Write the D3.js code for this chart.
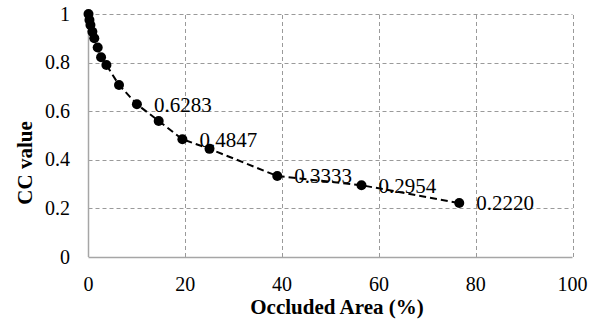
<!DOCTYPE html>
<html>
<head>
<meta charset="utf-8">
<script src="https://cdn.jsdelivr.net/npm/d3@7"></script>
<style>
  body { margin: 0; background: #fff; }
</style>
</head>
<body>
<svg width="603" height="324"></svg>
<script>
  // occluded area (%) and CC value
  const occluded = [0, 0.2, 0.4, 0.8, 1.2, 1.9, 2.6, 3.7, 6.3, 10.0, 14.5, 19.4, 25.0, 39.0, 56.4, 76.6];
  const ccValue = [1.0, 0.975, 0.955, 0.927, 0.90, 0.862, 0.822, 0.79, 0.708, 0.6283, 0.56, 0.4847, 0.445, 0.3333, 0.2954, 0.2220];
  const labelled = ['0.6283', '0.4847', '0.3333', '0.2954', '0.2220'];

  const xTicks = [0, 20, 40, 60, 80, 100];
  const yTicks = [0, 0.2, 0.4, 0.6, 0.8, 1];

  const points = occluded.map((x, i) => ({ x, y: ccValue[i] }));

  const serif = 'Liberation Serif';

  const svg = d3.select('svg');

  const x = d3.scaleLinear().domain([0, 100]).range([88.5, 572.5]);
  const y = d3.scaleLinear().domain([0, 1]).range([257, 14]);

  // gridlines
  svg.append('g')
    .selectAll('line').data(yTicks.filter(d => d > 0))
    .enter().append('line')
      .attr('x1', x(0)).attr('x2', x(100))
      .attr('y1', d => Math.round(y(d)) + 0.5).attr('y2', d => Math.round(y(d)) + 0.5)
      .attr('stroke', '#9a9a9a').attr('stroke-dasharray', '4,3');

  svg.append('g')
    .selectAll('line').data(xTicks.filter(d => d > 0))
    .enter().append('line')
      .attr('y1', y(0)).attr('y2', y(1))
      .attr('x1', d => Math.round(x(d)) + 0.5).attr('x2', d => Math.round(x(d)) + 0.5)
      .attr('stroke', '#9a9a9a').attr('stroke-dasharray', '4,3');

  // axis lines
  svg.append('line')
    .attr('x1', x(0)).attr('x2', x(0)).attr('y1', y(0)).attr('y2', y(1))
    .attr('stroke', '#a6a6a6').attr('stroke-width', 1.5);
  svg.append('line')
    .attr('x1', x(0)).attr('x2', x(100)).attr('y1', y(0) + 0.5).attr('y2', y(0) + 0.5)
    .attr('stroke', '#a6a6a6').attr('stroke-width', 1.5);

  // tick labels
  svg.append('g')
    .attr('font-family', serif).attr('font-size', 20)
    .selectAll('text').data(yTicks)
    .enter().append('text')
      .attr('x', 70)
      .attr('y', d => y(d))
      .attr('dy', '0.33em')
      .attr('text-anchor', 'end')
      .text(d => d3.format('')(d));

  svg.append('g')
    .attr('font-family', serif).attr('font-size', 20)
    .selectAll('text').data(xTicks)
    .enter().append('text')
      .attr('x', d => x(d))
      .attr('y', 291)
      .attr('text-anchor', 'middle')
      .text(d => d);

  // axis titles
  svg.append('text')
    .attr('font-family', serif).attr('font-size', 21).attr('font-weight', 'bold')
    .attr('x', 337).attr('y', 314)
    .attr('text-anchor', 'middle')
    .text('Occluded Area (%)');

  svg.append('text')
    .attr('font-family', serif).attr('font-size', 21).attr('font-weight', 'bold')
    .attr('transform', 'translate(32,163) rotate(-90)')
    .attr('text-anchor', 'middle')
    .text('CC value');

  // dashed series line
  svg.append('path')
    .datum(points)
    .attr('fill', 'none')
    .attr('stroke', '#000')
    .attr('stroke-width', 2)
    .attr('stroke-dasharray', '7,4')
    .attr('d', d3.line().x(d => x(d.x)).y(d => y(d.y)));

  svg.append('g')
    .selectAll('circle').data(points)
    .enter().append('circle')
      .attr('cx', d => x(d.x))
      .attr('cy', d => y(d.y))
      .attr('r', 5)
      .attr('fill', '#000');

  // value labels to the right of selected points
  svg.append('g')
    .attr('font-family', serif).attr('font-size', 21)
    .selectAll('text').data(points.filter(d => labelled.includes(d3.format('.4f')(d.y))))
    .enter().append('text')
      .attr('x', d => x(d.x) + 17)
      .attr('y', d => y(d.y))
      .attr('dy', '0.35em')
      .text(d => d3.format('.4f')(d.y));
</script>
</body>
</html>
